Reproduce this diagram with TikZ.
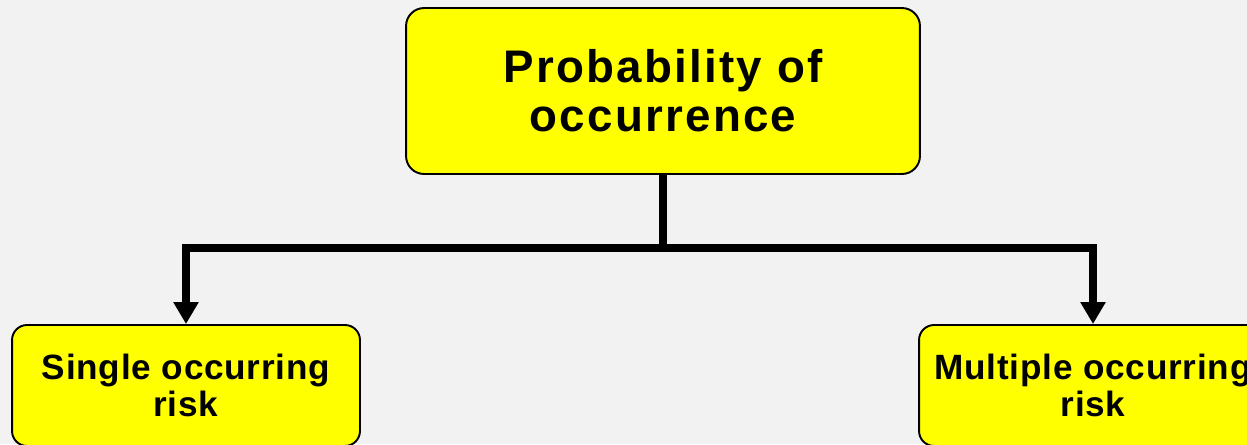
\documentclass[tikz,border=0pt]{standalone}
\usepackage{fontspec}
\setmainfont{Liberation Sans}
\usepackage{xcolor}
\usetikzlibrary{arrows.meta,positioning}
\definecolor{rbg}{HTML}{F2F2F2}
\definecolor{ryellow}{HTML}{FFFF00}
\begin{document}
\begin{tikzpicture}[
      x=0.02cm,y=-0.02cm,
      every node/.style={align=center,font=\bfseries},
      riskbox/.style={fill=ryellow,draw=black,line width=1.1pt,
                  rounded corners=0.3cm,inner sep=0pt,
                  minimum width=6.96cm,minimum height=2.42cm,
                  font=\bfseries\fontsize{20pt}{21.5pt}\selectfont\addfontfeature{LetterSpace=2.2}},
      link/.style={line width=4.2pt},
      arr/.style={link,-{Triangle[length=0.44cm,width=0.48cm]}}
    ]
      \fill[rbg] (0,0) rectangle (1247,444);
      \useasboundingbox (0,0) rectangle (1247,444);
      \clip (0,0) rectangle (1247,444);
      \node[riskbox,rounded corners=0.36cm,minimum width=10.28cm,minimum height=3.32cm,
            font=\bfseries\fontsize{26pt}{28pt}\selectfont\addfontfeature{LetterSpace=5}] (prob) at (663,91)
        {Probability of\\occurrence};
      \node[riskbox] (single) at (186,385.5) {Single occurring\\risk};
      \node[riskbox] (multiple) at (1093,385.5) {Multiple occurring\\risk};
      \coordinate (split) at (663,248);
      \draw[link] (prob) -- (split);
      \foreach \b in {single,multiple}
        \draw[arr] (split) -| (\b);
    \end{tikzpicture}
\end{document}
